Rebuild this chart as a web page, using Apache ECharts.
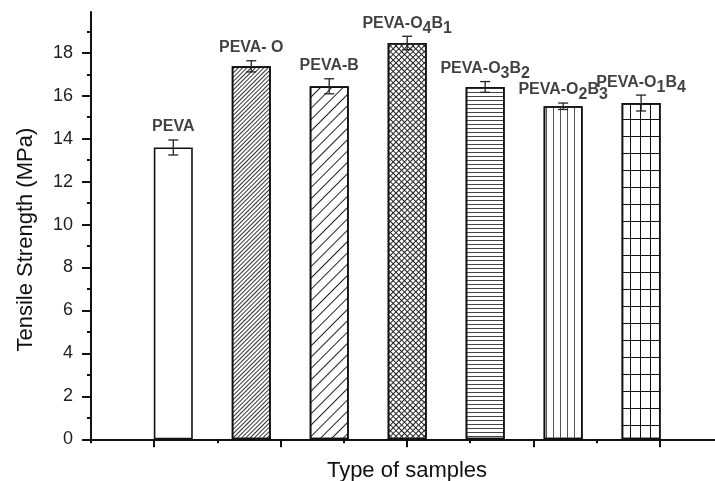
<!DOCTYPE html>
<html>
<head>
<meta charset="utf-8">
<script src="https://cdn.jsdelivr.net/npm/echarts@6/dist/echarts.min.js"></script>
<style>html,body{margin:0;padding:0;background:#fff}#c{width:715px;height:481px}</style>
</head>
<body>
<div id="c"></div>
<script>
// ---- data ----
const categories = ['PEVA', 'PEVA-O', 'PEVA-B', 'PEVA-O4B1', 'PEVA-O3B2', 'PEVA-O2B3', 'PEVA-O1B4'];
const labelTexts = ['{m|PEVA}', '{m|PEVA- O}', '{m|PEVA-B}', '{m|PEVA-O}{s|4}{m|B}{s|1}',
                    '{m|PEVA-O}{s|3}{m|B}{s|2}', '{m|PEVA-O}{s|2}{m|B}{s|3}', '{m|PEVA-O}{s|1}{m|B}{s|4}'];
const strength = [13.59, 17.37, 16.44, 18.46, 16.41, 15.51, 15.66];
const errors = [0.35, 0.26, 0.35, 0.31, 0.25, 0.15, 0.37];
const yTicks = [0, 2, 4, 6, 8, 10, 12, 14, 16, 18];

const FONT = "'Liberation Sans', Arial, Helvetica, sans-serif";

// ---- hatch styles ----
const diag = (gap, rot, color) => ({symbol: 'rect', symbolSize: 1, dashArrayX: [1, 0], dashArrayY: [1, gap], rotation: rot, color: color});
const horiz = (gap, color) => ({symbol: 'rect', symbolSize: 1, dashArrayX: [1, 0], dashArrayY: [1, gap], rotation: 0, color: color});
const vert = (gap, color) => ({symbol: 'rect', symbolSize: 1, dashArrayX: [1, gap], dashArrayY: [1, 0], rotation: 0, color: color});
const R = Math.PI / 4;
const decalA = [null, diag(2, -R, '#333'), diag(7, -R, '#222'), diag(3, -R, '#222'), horiz(3, '#444'), vert(6, '#555'), vert(9, '#111')];
const decalB = [null, null, null, diag(3, R, '#222'), null, null, horiz(16, '#111')];

const chart = echarts.init(document.getElementById('c'), null, {renderer: 'canvas'});
const yMax = 19.9;

const option = {
  backgroundColor: '#fff',
  animation: false,
  grid: [
    {left: 91, right: -8, top: 12, bottom: 41.7, outerBoundsMode: 'none', containLabel: false},
    {left: 134.3, right: 34.9, top: 12, bottom: 41.7, outerBoundsMode: 'none', containLabel: false}
  ],
  xAxis: [
    {
      type: 'value', gridIndex: 0, min: 0, max: 10, interval: 2,
      axisLine: {show: true, lineStyle: {color: '#111', width: 2}},
      axisTick: {show: true, length: 4, lineStyle: {color: '#111', width: 2}},
      minorTick: {show: true, splitNumber: 2, length: 8, lineStyle: {color: '#111', width: 2}},
      axisLabel: {show: false},
      splitLine: {show: false},
      name: 'Type of samples', nameLocation: 'middle', nameGap: 21,
      nameTextStyle: {fontFamily: FONT, fontSize: 22, color: '#111'}
    },
    {
      type: 'category', gridIndex: 1, data: categories,
      axisLine: {show: false}, axisTick: {show: false}, axisLabel: {show: false}, splitLine: {show: false}
    }
  ],
  yAxis: [
    {
      type: 'value', gridIndex: 0, min: 0, max: yMax, interval: 2,
      axisLine: {show: true, lineStyle: {color: '#111', width: 2}},
      axisTick: {show: true, length: 9, customValues: yTicks, lineStyle: {color: '#111', width: 2}},
      minorTick: {show: true, splitNumber: 2, length: 4, lineStyle: {color: '#111', width: 2}},
      axisLabel: {show: true, customValues: yTicks, margin: 18, fontFamily: FONT, fontSize: 18, color: '#222'},
      splitLine: {show: false},
      name: 'Tensile Strength (MPa)', nameLocation: 'middle', nameGap: 54,
      nameTextStyle: {fontFamily: FONT, fontSize: 22, color: '#111', padding: [0, 28, 0, 0]}
    },
    {
      type: 'value', gridIndex: 1, min: 0, max: yMax,
      axisLine: {show: false}, axisTick: {show: false}, axisLabel: {show: false}, splitLine: {show: false}
    }
  ],
  series: [
    {
      type: 'bar', xAxisIndex: 1, yAxisIndex: 1, barWidth: '50%', barGap: '-100%', z: 2,
      itemStyle: {color: '#fff', borderColor: '#111', borderWidth: 1.6},
      data: strength.map((v, i) => decalA[i] ? {value: v, itemStyle: {decal: decalA[i]}} : {value: v})
    },
    {
      type: 'bar', xAxisIndex: 1, yAxisIndex: 1, barWidth: '50%', barGap: '-100%', z: 3,
      itemStyle: {color: 'rgba(0,0,0,0)', borderWidth: 0},
      data: strength.map((v, i) => decalB[i] ? {value: v, itemStyle: {decal: decalB[i]}} : '-')
    },
    {
      type: 'custom', xAxisIndex: 1, yAxisIndex: 1, z: 5, silent: true,
      data: categories.map((c, i) => [i, strength[i], errors[i]]),
      renderItem: function (params, api) {
        const i = api.value(0), v = api.value(1), e = api.value(2);
        const t = api.coord([i, v + e]);
        const b = api.coord([i, v - e]);
        const hw = 5;
        const st = {stroke: '#222', lineWidth: 1.3};
        return {
          type: 'group',
          children: [
            {type: 'line', shape: {x1: t[0], y1: t[1], x2: b[0], y2: b[1]}, style: st},
            {type: 'line', shape: {x1: t[0] - hw, y1: t[1], x2: t[0] + hw, y2: t[1]}, style: st},
            {type: 'line', shape: {x1: b[0] - hw, y1: b[1], x2: b[0] + hw, y2: b[1]}, style: st}
          ]
        };
      }
    },
    {
      type: 'scatter', xAxisIndex: 1, yAxisIndex: 1, symbolSize: 0, silent: true, z: 6,
      data: categories.map((c, i) => [i, strength[i] + errors[i]]),
      label: {
        show: true, position: 'top', distance: 0,
        formatter: (p) => labelTexts[p.dataIndex],
        rich: {
          m: {fontFamily: FONT, fontSize: 16, fontWeight: 'bold', color: '#111', lineHeight: 26},
          s: {fontFamily: FONT, fontSize: 16, fontWeight: 'bold', color: '#111', lineHeight: 16, verticalAlign: 'bottom'}
        }
      }
    }
  ]
};
chart.setOption(option);
</script>
</body>
</html>
